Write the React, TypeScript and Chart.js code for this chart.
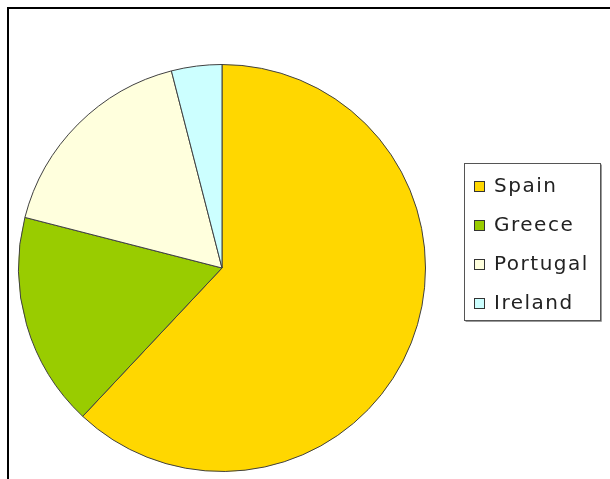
import React, { useEffect, useRef } from 'react';
import { Chart, registerables } from 'chart.js';

Chart.register(...registerables);

const categories = ['Spain', 'Greece', 'Portugal', 'Ireland'];
const values = [62, 17, 17, 4];
const colors = ['#FFD700', '#99CC00', '#FFFFDD', '#CCFFFF'];

const boxLegend = {
  id: 'boxLegend',
  afterDraw(chart: any) {
    const ctx = chart.ctx as CanvasRenderingContext2D;
    const ds = chart.data.datasets[0];
    const labels = chart.data.labels as string[];
    const area = chart.chartArea;
    const x0 = area.right + 38.5;
    const y0 = 163.5;
    const w = 136;
    const h = 157;
    const step = 39;
    ctx.save();
    ctx.strokeStyle = '#9a9a9a';
    ctx.lineWidth = 1;
    ctx.beginPath();
    ctx.moveTo(x0 + 1, y0 + h + 1);
    ctx.lineTo(x0 + w + 1, y0 + h + 1);
    ctx.lineTo(x0 + w + 1, y0 + 1);
    ctx.stroke();
    ctx.strokeStyle = '#555555';
    ctx.strokeRect(x0, y0, w, h);
    ctx.font = '20px "DejaVu Sans"';
    (ctx as any).letterSpacing = '1.5px';
    ctx.textBaseline = 'alphabetic';
    ctx.textAlign = 'left';
    labels.forEach((lab, i) => {
      const by = y0 + 18 + i * step;
      ctx.fillStyle = ds.backgroundColor[i];
      ctx.fillRect(x0 + 10, by, 10, 10);
      ctx.strokeStyle = '#333333';
      ctx.strokeRect(x0 + 10, by, 10, 10);
      ctx.fillStyle = '#222222';
      ctx.fillText(lab, x0 + 29.5, 192 + i * step);
    });
    ctx.restore();
  },
};

export default function App() {
  const ref = useRef<HTMLCanvasElement>(null);
  useEffect(() => {
    if (!ref.current) return;
    const chart = new Chart(ref.current, {
      type: 'pie',
      data: {
        labels: categories,
        datasets: [
          {
            data: values,
            backgroundColor: colors,
            borderColor: '#404040',
            borderWidth: 1,
          },
        ],
      },
      options: {
        responsive: false,
        animation: false,
        layout: { padding: { top: 64, bottom: 7, left: 18, right: 184 } },
        plugins: {
          legend: { display: false },
          tooltip: { enabled: false },
          title: { display: false },
        },
      },
      plugins: [boxLegend],
    });
    return () => chart.destroy();
  }, []);
  return (
    <>
      <div
        style={{
          position: 'fixed',
          left: 7,
          top: 7,
          width: 603,
          height: 472,
          boxSizing: 'border-box',
          borderTop: '2px solid #000',
          borderLeft: '2px solid #000',
          background: '#fff',
        }}
      />
      <canvas
        ref={ref}
        width={610}
        height={479}
        style={{ position: 'fixed', left: 0, top: 0, width: 610, height: 479 }}
      />
    </>
  );
}
